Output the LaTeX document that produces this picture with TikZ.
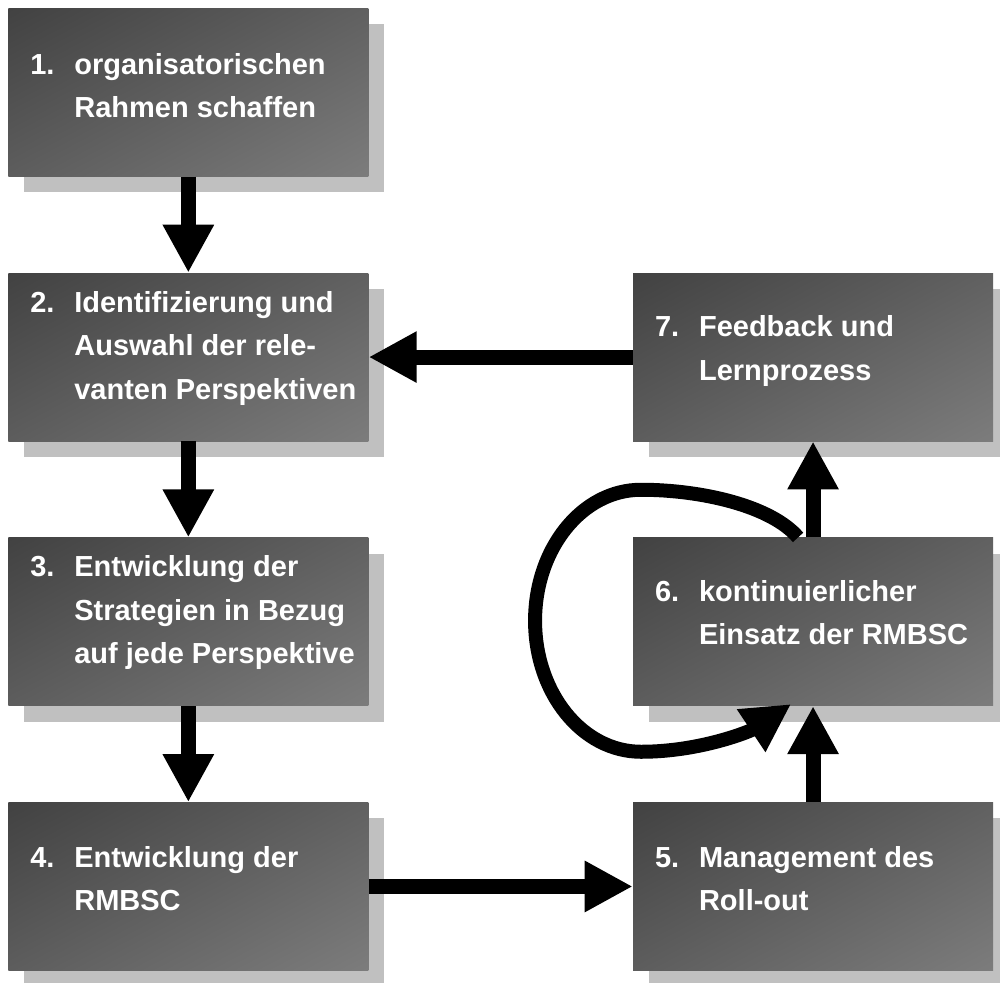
\documentclass[tikz,border=0pt]{standalone}
\usepackage{fontspec}
\setmainfont{Liberation Sans}
\usetikzlibrary{arrows.meta,positioning,calc,shadows}
\definecolor{boxdark}{RGB}{52,52,52}
\definecolor{boxlight}{RGB}{138,138,138}
\definecolor{shadowgray}{RGB}{192,192,192}
\pgfdeclarehorizontalshading{stepshade}{100bp}{color(0bp)=(boxdark); color(100bp)=(boxlight)}

\newcommand{\steptext}[2]{\begin{tabular}{@{}p{0.88cm}@{}l@{}}#1 & #2\end{tabular}}

\begin{document}
\begin{tikzpicture}[
  node distance=1.92cm and 5.28cm,
  stepbox/.style={rectangle, draw=none, shade, shading=stepshade, shading angle=-62, minimum width=7.2cm, minimum height=3.36cm, inner sep=0pt, general shadow={fill=shadowgray, shadow xshift=0.32cm, shadow yshift=-0.32cm}},
  steplbl/.style={anchor=west, inner sep=0pt, text=white, font=\fontsize{16.5}{24.75}\selectfont\bfseries},
  flow/.style={-{Triangle[length=0.96cm, width=0.96cm]}, line width=0.3cm},
  looparrow/.style={-{Triangle[length=0.96cm, width=0.96cm]}, line width=0.28cm}
]
\useasboundingbox (0,0) rectangle (20,-19.66);

\node[stepbox, anchor=north west] (b1) at (0.16,-0.16) {};
\node[stepbox, below=of b1] (b2) {};
\node[stepbox, below=of b2] (b3) {};
\node[stepbox, below=of b3] (b4) {};
\node[stepbox, right=of b4] (b5) {};
\node[stepbox, above=of b5] (b6) {};
\node[stepbox, above=of b6] (b7) {};

\node[steplbl] (t1) at ($(b1.west)+(0.44,0.1)$) {\steptext{1.}{organisatorischen\\ & Rahmen schaffen}};
\node[steplbl] (t2) at ($(b2.west)+(0.44,0.2)$) {\steptext{2.}{Identifizierung und\\ & Auswahl der rele-\\ & vanten Perspektiven}};
\node[steplbl] (t3) at ($(b3.west)+(0.44,0.2)$) {\steptext{3.}{Entwicklung der\\ & Strategien in Bezug\\ & auf jede Perspektive}};
\node[steplbl] (t4) at ($(b4.west)+(0.44,0.12)$) {\steptext{4.}{Entwicklung der\\ & RMBSC}};
\node[steplbl] (t5) at ($(b5.west)+(0.44,0.12)$) {\steptext{5.}{Management des\\ & Roll-out}};
\node[steplbl] (t6) at ($(b6.west)+(0.44,0.15)$) {\steptext{6.}{kontinuierlicher\\ & Einsatz der RMBSC}};
\node[steplbl] (t7) at ($(b7.west)+(0.44,0.15)$) {\steptext{7.}{Feedback und\\ & Lernprozess}};

\draw[flow] (b1) -- (b2);
\draw[flow] (b2) -- (b3);
\draw[flow] (b3) -- (b4);
\draw[flow] (b4) -- (b5);
\draw[flow] (b5) -- (b6);
\draw[flow] (b6) -- (b7);
\draw[flow] (b7) -- (b2);

\coordinate (loopstart) at ($(b6.north)+(-0.3,0)$);
\coordinate (looptop) at ($(b6.center)+(-3.44,2.64)$);
\coordinate (loopleft) at ($(b6.center)+(-5.56,0.02)$);
\coordinate (loopbottom) at ($(b6.center)+(-3.44,-2.6)$);
\coordinate (loopend) at ($(b6.south)+(-0.44,0.04)$);
\draw[looparrow] (loopstart)
  .. controls ($(b6.center)+(-0.84,2.32)$) and ($(b6.center)+(-2.24,2.64)$) .. (looptop)
  .. controls ($(b6.center)+(-4.62,2.64)$) and ($(b6.center)+(-5.56,1.46)$) .. (loopleft)
  .. controls ($(b6.center)+(-5.56,-1.42)$) and ($(b6.center)+(-4.62,-2.6)$) .. (loopbottom)
  .. controls ($(b6.center)+(-2.24,-2.6)$) and ($(b6.center)+(-1.24,-2.18)$) .. (loopend);

\end{tikzpicture}
\end{document}
